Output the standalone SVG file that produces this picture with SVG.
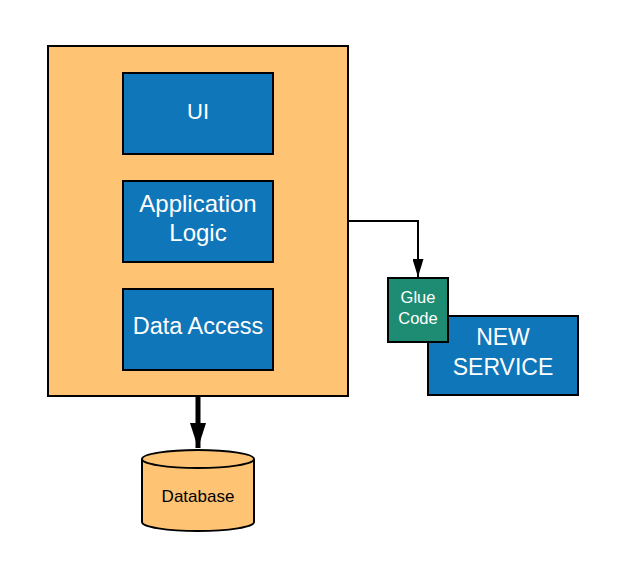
<svg xmlns="http://www.w3.org/2000/svg" width="627" height="577" viewBox="0 0 627 577">
<style>
.b{stroke:#000;stroke-width:2}
.o{fill:#FFC374}
.bl{fill:#1076BA}
.g{fill:#1E8C73}
.t{font-family:"Liberation Sans",Arial,sans-serif;fill:#fff;text-anchor:middle}
.d{font-family:"Liberation Sans",Arial,sans-serif;fill:#000;text-anchor:middle}
</style>
<defs>
<marker id="a1" markerWidth="18" markerHeight="11" refX="18" refY="5.5" orient="auto" markerUnits="userSpaceOnUse" viewBox="0 0 18 11"><path d="M0,0 L18,5.5 L0,11 Z" fill="#000"/></marker>
<marker id="a2" markerWidth="25" markerHeight="16" refX="25" refY="8" orient="auto" markerUnits="userSpaceOnUse" viewBox="0 0 25 16"><path d="M0,0 L25,8 L0,16 Z" fill="#000"/></marker>
</defs>
<g id="app"><rect class="b o" x="48" y="46" width="300" height="350"/></g>
<g id="ui"><rect class="b bl" x="123" y="73" width="150" height="81"/><text class="t" x="198" y="119" font-size="22">UI</text></g>
<g id="logic"><rect class="b bl" x="123" y="181" width="150" height="81"/><text class="t" x="198" y="212" font-size="24">Application</text><text class="t" x="198" y="241" font-size="24">Logic</text></g>
<g id="data"><rect class="b bl" x="123" y="289" width="150" height="81"/><text class="t" x="198" y="334" font-size="23.5">Data Access</text></g>
<g id="service"><rect class="b bl" x="428" y="316" width="150" height="79"/><text class="t" x="503" y="345" font-size="23">NEW</text><text class="t" x="503" y="375" font-size="23">SERVICE</text></g>
<g id="glue"><rect class="b g" x="388" y="278" width="60" height="64"/><text class="t" x="418" y="303" font-size="16.5">Glue</text><text class="t" x="418" y="324" font-size="16.5">Code</text></g>
<g id="db"><path class="b o" d="M142,459 A56,9 0 0 1 254,459 L254,522 A56,9 0 0 1 142,522 Z"/><path d="M142,459 A56,9 0 0 0 254,459" fill="none" stroke="#000" stroke-width="2"/><text class="d" x="198" y="502" font-size="17">Database</text></g>
<g id="connectors">
<path d="M348,221 L418,221 L418,277" fill="none" stroke="#000" stroke-width="2" marker-end="url(#a1)"/>
<path d="M198,397 L198,448" fill="none" stroke="#000" stroke-width="5" marker-end="url(#a2)"/>
</g>
</svg>
